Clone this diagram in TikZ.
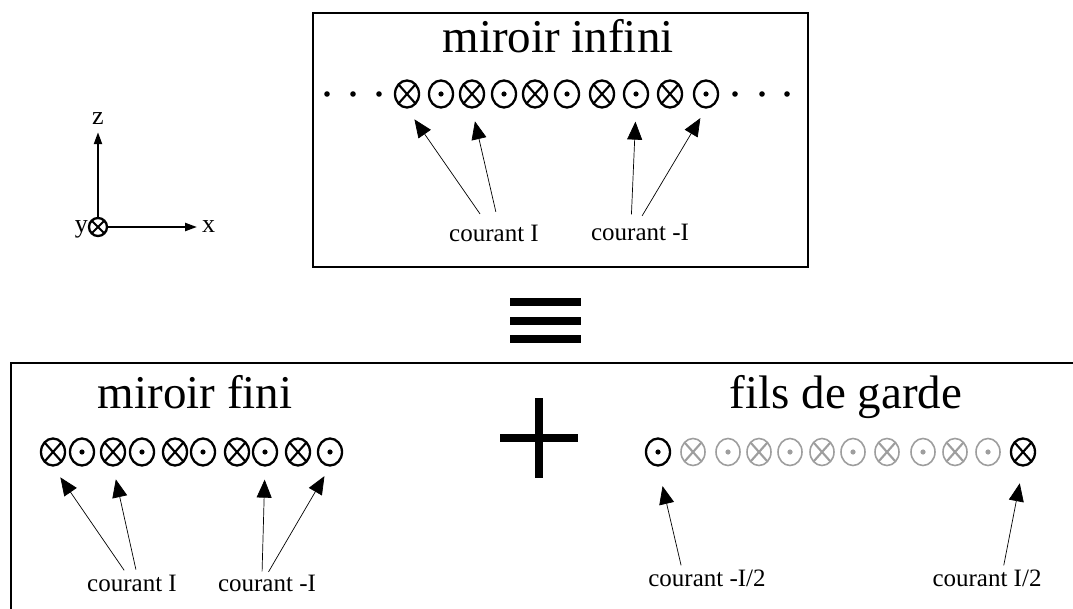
\documentclass[tikz,border=0pt]{standalone}
\usepackage{fontspec}
\setmainfont{Liberation Serif}
\usetikzlibrary{arrows.meta,shapes.geometric,positioning}

\begin{document}
\begin{tikzpicture}[
  x=1pt, y=-1pt,
  fil/.style={ellipse, draw, line width=2.3pt, minimum width=24pt, minimum height=27pt, inner sep=0pt},
  entrant/.style={fil, path picture={
      \draw[line width=2.1pt] (path picture bounding box.north west) -- (path picture bounding box.south east)
            (path picture bounding box.north east) -- (path picture bounding box.south west);}},
  sortant/.style={fil, path picture={\fill (path picture bounding box.center) circle (2.6pt);}},
  gris/.style={color=black!38, line width=1.6pt},
  titre/.style={font=\fontsize{47}{50}\selectfont, inner sep=0pt, anchor=base},
  etiq/.style={font=\fontsize{25}{28}\selectfont, inner sep=0pt, anchor=base},
  axe/.style={font=\fontsize{26}{28}\selectfont, inner sep=0pt},
  fleche/.style={-{Triangle[length=18pt,width=15pt]}, line width=0.7pt},
  boite/.style={draw, line width=2.2pt}
]
  \useasboundingbox (0,0) rectangle (1073,609);

  % axes
  \node[entrant, minimum width=18pt, minimum height=18pt, line width=2.3pt] (o) at (98,227) {};
  \node[axe, anchor=base] (zl) at (98,125) {z};
  \node[axe, anchor=west] (xl) at (202,227) {x};
  \node[axe, anchor=base east] (yl) at (88,233) {y};
  \draw[-{Triangle[length=12pt,width=8pt]}, line width=2.2pt, shorten >=7pt] (o) -- (zl);
  \draw[-{Triangle[length=12pt,width=8pt]}, line width=2.2pt, shorten >=5pt] (o) -- (xl);

  % miroir infini
  \draw[boite] (313,13) rectangle (808,267);
  \node[titre] (t1) at (558,53) {miroir infini};
  \foreach \x/\s [count=\i] in {407/entrant, 441/sortant, 472/entrant, 504/sortant, 535/entrant,
                               567/sortant, 602/entrant, 636/sortant, 670/entrant, 706/sortant}
    \node[\s] (m\i) at (\x,94) {};
  \foreach \x in {327,353,379,735,762,787}
    \fill (\x,94) circle (2.8pt);
  \node[etiq] (mI) at (494,242) {courant I};
  \node[etiq] (mJ) at (640,241) {courant -I};
  \draw[fleche, shorten <=14pt, shorten >=13pt] ([xshift=-6pt]mI.north) -- (m1.south);
  \draw[fleche, shorten <=14pt, shorten >=13pt] ([xshift=5pt]mI.north) -- (m3.south);
  \draw[fleche, shorten <=10pt, shorten >=13pt] ([xshift=-9pt]mJ.north) -- (m8.south);
  \draw[fleche, shorten <=10pt, shorten >=11pt] ([xshift=-3pt]mJ.north) -- (m10.south);

  % equivalence
  \foreach \y in {302,321,339}
    \fill (510,\y-4) rectangle (581,\y+4);

  % miroir fini + fils de garde
  \draw[boite] (11,363) rectangle (1090,630);
  \node[titre] (t2) at (195,408) {miroir fini};
  \node[titre] (t3) at (846,408) {fils de garde};
  \fill (500,434) rectangle (578,442);
  \fill (535,398) rectangle (543,478);

  \foreach \x/\s [count=\i] in {53/entrant, 82/sortant, 113/entrant, 142/sortant, 175/entrant,
                               203/sortant, 237/entrant, 265/sortant, 298/entrant, 330/sortant}
    \node[\s] (f\i) at (\x,452) {};
  \node[etiq] (fI) at (132,591) {courant I};
  \node[etiq] (fJ) at (267,591) {courant -I};
  \draw[fleche, shorten <=5pt, shorten >=13pt] ([xshift=-5pt]fI.north) -- (f1.south);
  \draw[fleche, shorten <=5pt, shorten >=13pt] ([xshift=5pt]fI.north) -- (f3.south);
  \draw[fleche, shorten <=3pt, shorten >=13pt] ([xshift=-5pt]fJ.north) -- (f8.south);
  \draw[fleche, shorten <=3pt, shorten >=11pt] ([xshift=0pt]fJ.north) -- (f10.south);

  \node[sortant] (g1) at (658,452) {};
  \foreach \x/\s [count=\i from 2] in {693/entrant, 728/sortant, 759/entrant, 790/sortant, 822/entrant,
                                      853/sortant, 887/entrant, 923/sortant, 955/entrant, 988/sortant}
    \node[\s, gris] (g\i) at (\x,452) {};
  \node[entrant] (g12) at (1023,452) {};
  \node[etiq] (gJ) at (707,586) {courant -I/2};
  \node[etiq] (gI) at (987,586) {courant I/2};
  \draw[fleche, shorten <=4pt, shorten >=20pt] ([xshift=-25pt]gJ.north) -- (g1.south);
  \draw[fleche, shorten <=4pt, shorten >=17pt] ([xshift=16pt]gI.north) -- (g12.south);
\end{tikzpicture}
\end{document}
